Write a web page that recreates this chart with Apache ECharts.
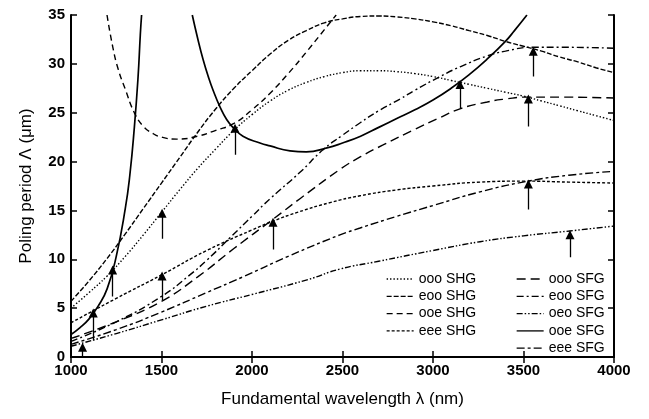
<!DOCTYPE html>
<html>
<head>
<meta charset="utf-8">
<script src="https://cdn.jsdelivr.net/npm/echarts@6/dist/echarts.min.js"></script>
<style>html,body{margin:0;padding:0;background:#fff;}#c{width:649px;height:419px;}</style>
</head>
<body>
<div id="c"></div>
<script>
// ---- data (wavelength nm, poling period um) ----
const xTicks = [1000, 1500, 2000, 2500, 3000, 3500, 4000];
const yTicks = [0, 5, 10, 15, 20, 25, 30, 35];

const oooSHG = [[1000,5.0],[1100,6.6],[1200,8.3],[1300,10.3],[1400,12.5],[1500,14.8],[1600,17.1],[1700,19.3],[1800,21.3],[1900,23.2],[2000,24.8],[2100,26.2],[2200,27.3],[2300,28.1],[2400,28.7],[2500,29.1],[2600,29.3],[2700,29.3],[2800,29.2],[2900,29.0],[3000,28.7],[3100,28.3],[3200,27.9],[3300,27.5],[3400,27.1],[3500,26.7],[3600,26.2],[3700,25.7],[3800,25.2],[3900,24.7],[4000,24.2]];
const eooSHG = [[1000,5.7],[1100,7.8],[1200,10.1],[1300,12.6],[1400,15.2],[1500,17.8],[1600,20.4],[1700,23.0],[1800,25.4],[1900,27.5],[2000,29.3],[2100,31.0],[2200,32.4],[2300,33.4],[2400,34.2],[2500,34.6],[2600,34.85],[2700,34.9],[2800,34.8],[2900,34.6],[3000,34.3],[3100,33.9],[3200,33.4],[3300,32.9],[3400,32.3],[3500,31.8],[3600,31.3],[3700,30.7],[3800,30.2],[3900,29.6],[4000,29.1]];
const ooeSHG = [[1199,35],[1230,31.8],[1260,29.5],[1300,27.4],[1350,25.0],[1400,23.6],[1450,22.9],[1500,22.5],[1585,22.3],[1700,22.6],[1800,23.2],[1900,23.9],[2000,25.3],[2100,27.0],[2200,29.0],[2300,31.2],[2400,33.5],[2465,35]];
const eeeSHG = [[1000,3.5],[1250,6.0],[1500,8.4],[1750,10.9],[2000,13.0],[2116,13.9],[2250,14.8],[2431,15.8],[2597,16.5],[2800,17.1],[3000,17.5],[3260,17.9],[3500,18.0],[3750,17.9],[4000,17.8]];

const oooSFG = [[1000,1.9],[1250,3.6],[1500,5.7],[1700,8.2],[1900,11.1],[2116,14.1],[2265,16.2],[2486,19.2],[2600,20.5],[2724,21.7],[2900,23.3],[3039,24.5],[3149,25.4],[3300,26.1],[3400,26.4],[3519,26.6],[3700,26.6],[4000,26.5]];
const eooSFG = [[1000,1.6],[1250,3.6],[1500,6.2],[1650,8.3],[1750,9.9],[1878,12.2],[2000,14.4],[2100,16.2],[2265,18.9],[2392,21.2],[2500,22.7],[2600,24.0],[2700,25.2],[2818,26.4],[2900,27.3],[3039,28.7],[3150,29.7],[3298,30.8],[3400,31.3],[3554,31.7],[3700,31.7],[4000,31.6]];
const oeoSFG = [[1000,1.1],[1250,2.4],[1500,3.8],[1750,5.2],[2000,6.4],[2304,7.9],[2486,9.0],[2700,9.8],[3000,10.9],[3260,11.8],[3500,12.4],[3757,12.9],[4000,13.4]];
const ooeSFGa = [[1000,2.3],[1050,3.0],[1100,3.9],[1150,5.2],[1200,7.0],[1250,10.3],[1300,15.2],[1325,18.6],[1350,23.5],[1370,28.5],[1383,33],[1390,35]];
const ooeSFGb = [[1670,35],[1700,32.6],[1729,30.5],[1760,28.6],[1785,27.3],[1823,25.6],[1860,24.3],[1895,23.5],[1950,22.6],[2044,21.9],[2100,21.6],[2210,21.1],[2300,21.0],[2414,21.4],[2500,21.9],[2600,22.6],[2700,23.5],[2800,24.4],[2900,25.3],[3000,26.3],[3100,27.5],[3200,28.9],[3300,30.5],[3400,32.3],[3450,33.4],[3519,35]];
const eeeSFG = [[1000,1.3],[1250,2.8],[1500,4.6],[1750,6.6],[1950,8.2],[2200,10.3],[2486,12.5],[2597,13.2],[2800,14.4],[3000,15.5],[3260,16.9],[3527,18.0],[3750,18.6],[4000,19.0]];

// arrows: [wavelength, tail, tip]
const arrows = [[1064,0.0,1.0],[1123,1.7,4.5],[1230,6.2,8.9],[1503,12.1,14.7],[1503,5.8,8.3],[1906,20.7,23.4],[2116,11.0,13.8],[3149,25.4,27.9],[3527,23.6,26.4],[3554,28.7,31.3],[3527,15.1,17.7],[3757,10.2,12.5]];

const FONT = 'Liberation Sans, Arial, Helvetica, sans-serif';

function mk(name, data, dash, width) {
  return {
    name: name, type: 'line', data: data, showSymbol: false, symbol: 'none',
    smooth: 0.5, clip: true,
    lineStyle: { color: '#000', width: width || 1.4, type: dash },
    itemStyle: { color: '#000' }, z: 3
  };
}

const series = [
  mk('ooo SHG', oooSHG, [1.4, 2]),
  mk('eoo SHG', eooSHG, [5, 2]),
  mk('ooe SHG', ooeSHG, [6, 4]),
  mk('eee SHG', eeeSHG, [3, 2]),
  mk('ooo SFG', oooSFG, [9, 5]),
  mk('eoo SFG', eooSFG, [7, 3, 2, 3]),
  mk('oeo SFG', oeoSFG, [6, 2, 1.5, 2, 1.5, 2]),
  mk('ooe SFG', ooeSFGa, 'solid', 1.7),
  mk('ooe SFG', ooeSFGb, 'solid', 1.7),
  mk('eee SFG', eeeSFG, [8, 3, 3, 3]),
  {
    name: 'arrows', type: 'lines', coordinateSystem: 'cartesian2d', z: 4,
    symbol: ['none', 'triangle'], symbolSize: [5, 9],
    lineStyle: { color: '#000', width: 1.3, opacity: 1 },
    data: arrows.map(a => ({ coords: [[a[0], a[1]], [a[0], a[2]]] }))
  }
];

const legendText = { fontFamily: FONT, fontSize: 14, color: '#000' };
const legendBase = { orient: 'vertical', top: 267, itemWidth: 27, itemHeight: 14, itemGap: 3.3,
  textStyle: legendText, selectedMode: false, itemStyle: { opacity: 0 },
  lineStyle: { width: 1.3 } };
const chart = echarts.init(document.getElementById('c'), null, { renderer: 'canvas' });
chart.setOption({
  animation: false,
  backgroundColor: '#fff',
  grid: { left: 71, right: 35, top: 15, bottom: 62 },
  legend: [
    Object.assign({ data: ['ooo SHG', 'eoo SHG', 'ooe SHG', 'eee SHG'], left: 381 }, legendBase),
    Object.assign({ data: ['ooo SFG', 'eoo SFG', 'oeo SFG', 'ooe SFG', 'eee SFG'], left: 511 }, legendBase)
  ],
  xAxis: [
    { type: 'value', min: xTicks[0], max: xTicks[xTicks.length - 1], interval: 500, position: 'bottom',
      name: 'Fundamental wavelength λ (nm)', nameLocation: 'middle', nameGap: 34,
      nameTextStyle: { fontFamily: FONT, fontSize: 17, color: '#000' },
      axisLine: { lineStyle: { color: '#000', width: 2 } },
      axisTick: { inside: true, length: 6, lineStyle: { color: '#000', width: 1.5 } },
      axisLabel: { fontFamily: FONT, fontSize: 15, fontWeight: 'bold', color: '#000', margin: 6,
        formatter: v => String(v) },
      splitLine: { show: false } },
    { type: 'value', min: xTicks[0], max: xTicks[xTicks.length - 1], interval: 500, position: 'top',
      axisLine: { lineStyle: { color: '#000', width: 2 } },
      axisTick: { inside: true, length: 6, lineStyle: { color: '#000', width: 1.5 } },
      axisLabel: { show: false }, splitLine: { show: false } }
  ],
  yAxis: [
    { type: 'value', min: yTicks[0], max: yTicks[yTicks.length - 1], interval: 5, position: 'left',
      name: 'Poling period Λ (μm)', nameLocation: 'middle', nameGap: 36,
      nameTextStyle: { fontFamily: FONT, fontSize: 17, color: '#000' },
      axisLine: { show: true, lineStyle: { color: '#000', width: 2 } },
      axisTick: { show: true, inside: true, length: 6, lineStyle: { color: '#000', width: 1.5 } },
      axisLabel: { fontFamily: FONT, fontSize: 15, fontWeight: 'bold', color: '#000', margin: 6 },
      splitLine: { show: false } },
    { type: 'value', min: yTicks[0], max: yTicks[yTicks.length - 1], interval: 5, position: 'right',
      axisLine: { show: true, lineStyle: { color: '#000', width: 2 } },
      axisTick: { show: true, inside: true, length: 6, lineStyle: { color: '#000', width: 1.5 } },
      axisLabel: { show: false }, splitLine: { show: false } }
  ],
  series: series
});
</script>
</body>
</html>
